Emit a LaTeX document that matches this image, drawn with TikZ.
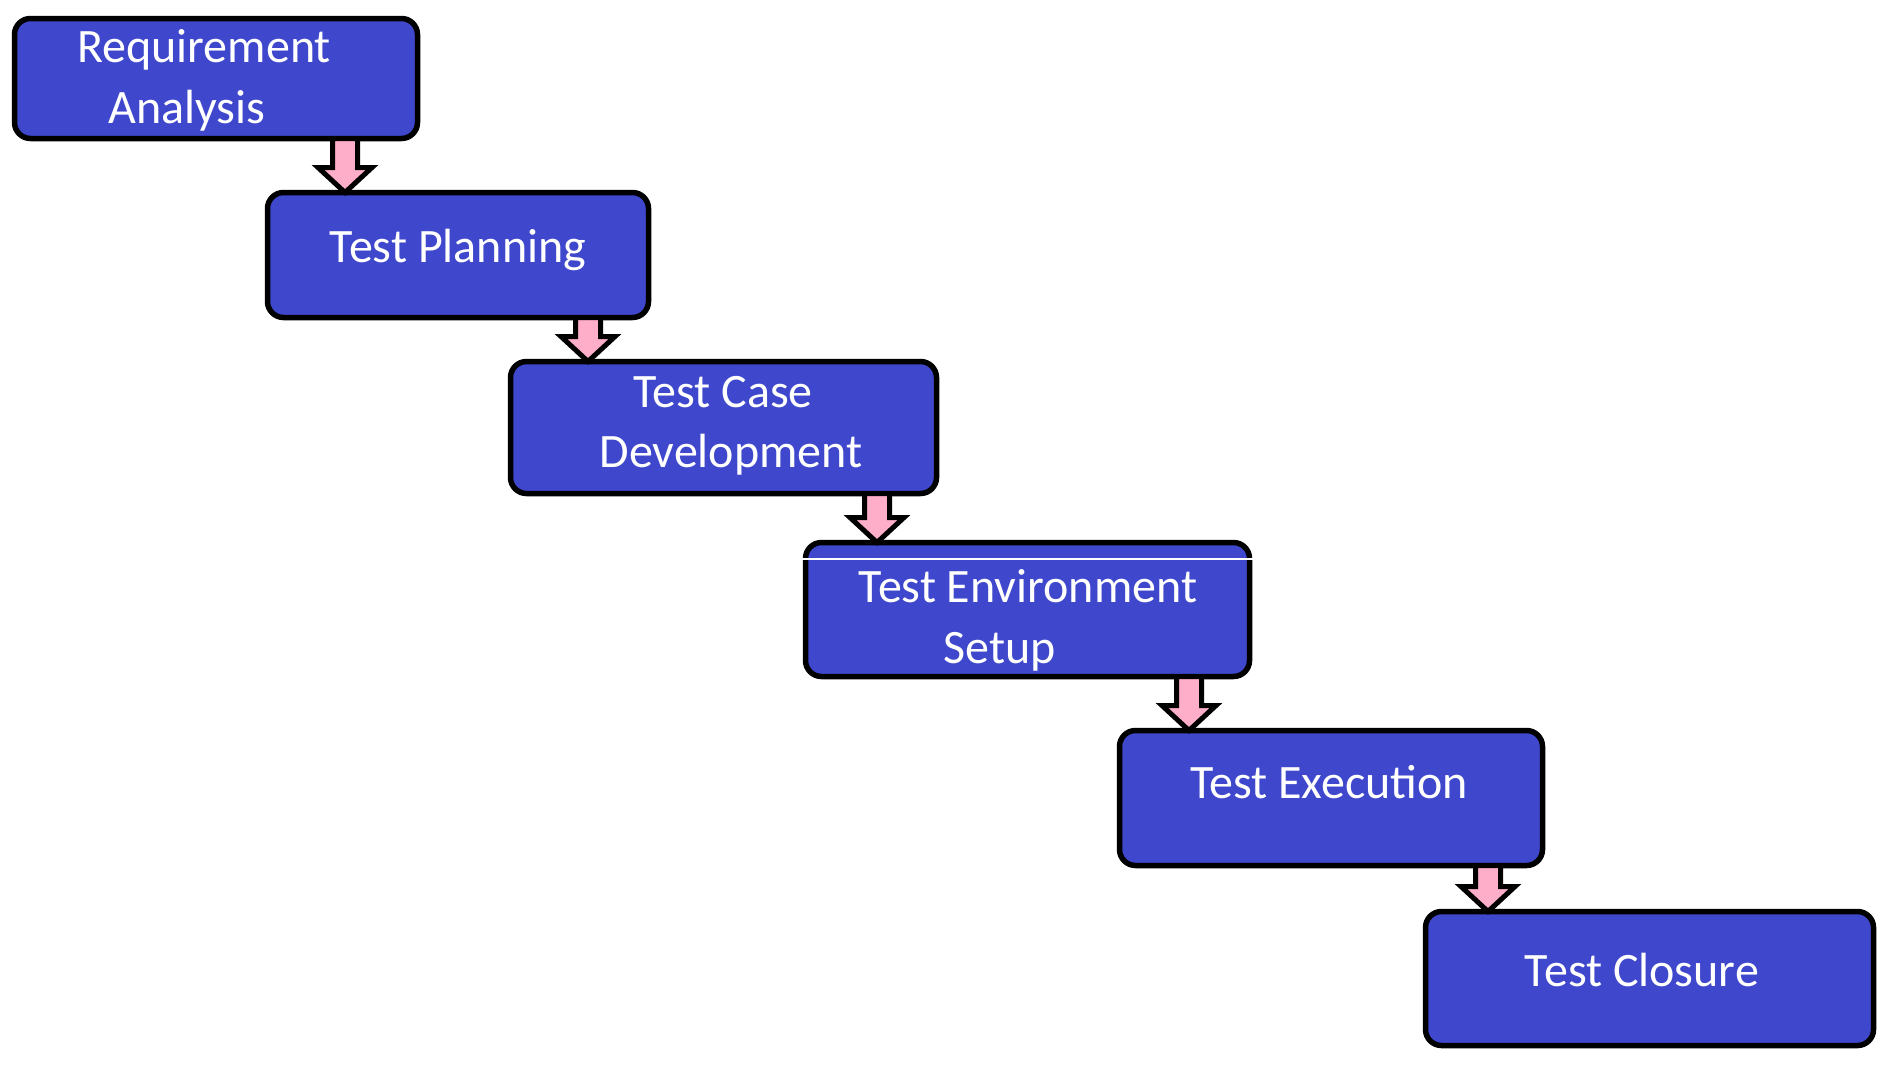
\documentclass[tikz,border=0pt]{standalone}
\usepackage{fontspec}
\setmainfont{Carlito}
\usetikzlibrary{calc}
\definecolor{boxblue}{HTML}{3F48CC}
\definecolor{arrowpink}{HTML}{FFAEC9}
\tikzset{
  stagebox/.style={draw=black, line width=5.5pt, fill=boxblue, rounded corners=16pt, inner sep=0pt, outer sep=0pt},
  stagetext/.style={text=white, font=\fontsize{48}{60}\selectfont, anchor=base, inner sep=0pt},
  blockarrowstyle/.style={draw=black, line width=5pt, fill=arrowpink, line join=miter},
}
\newcommand\blkarrow[2]{%
  \draw[blockarrowstyle] ($(#1)+(-12.5,0)$) -- ($(#2)+(-12.5,-25)$) -- ($(#2)+(-27,-25)$) -- (#2)
    -- ($(#2)+(27,-25)$) -- ($(#2)+(12.5,-25)$) -- ($(#1)+(12.5,0)$) -- cycle;}
\begin{document}
\begin{tikzpicture}[x=1pt,y=-1pt]
\useasboundingbox (0,0) rectangle (1900,1076);
% boxes
\node[stagebox, minimum width=403pt, minimum height=120pt] (b1) at (216,78.5) {};
\node[stagebox, minimum width=381pt, minimum height=125pt] (b2) at (458,255) {};
\node[stagebox, minimum width=426pt, minimum height=132pt] (b3) at (723.5,427.5) {};
\node[stagebox, minimum width=444pt, minimum height=134pt] (b4) at (1027.5,609.5) {};
\node[stagebox, minimum width=423pt, minimum height=135pt] (b5) at (1331,798) {};
\node[stagebox, minimum width=448pt, minimum height=134pt] (b6) at (1649.5,978.5) {};
% thin white line in box 4
\coordinate (wl1) at (802,559);
\coordinate (wl2) at (1253,559);
\draw[white, line width=1.5pt] (wl1) -- (wl2);
% texts
\node[stagetext] (t1a) at (204,62) {Requirement};
\node[stagetext] (t1b) at (187,123) {Analysis};
\node[stagetext] (t2) at (458,262) {Test Planning};
\node[stagetext] (t3a) at (723,407) {Test Case};
\node[stagetext] (t3b) at (731,467) {Development};
\node[stagetext] (t4a) at (1028,602) {Test Environment};
\node[stagetext] (t4b) at (1000,663) {Setup};
\node[stagetext] (t5) at (1329,798) {Test Execution};
\node[stagetext] (t6) at (1642,986) {Test Closure};
% arrows
\coordinate (x1) at (345,0);
\coordinate (x2) at (588,0);
\coordinate (x3) at (877,0);
\coordinate (x4) at (1189,0);
\coordinate (x5) at (1488,0);
\coordinate (a1s) at (b1.south -| x1);
\coordinate (a2s) at (b2.south -| x2);
\coordinate (a3s) at (b3.south -| x3);
\coordinate (a4s) at (b4.south -| x4);
\coordinate (a5s) at (b5.south -| x5);
\coordinate (a1e) at (b2.north -| x1);
\coordinate (a2e) at (b3.north -| x2);
\coordinate (a3e) at (b4.north -| x3);
\coordinate (a4e) at (b5.north -| x4);
\coordinate (a5e) at (b6.north -| x5);
\blkarrow{a1s}{a1e}
\blkarrow{a2s}{a2e}
\blkarrow{a3s}{a3e}
\blkarrow{a4s}{a4e}
\blkarrow{a5s}{a5e}
\end{tikzpicture}
\end{document}
